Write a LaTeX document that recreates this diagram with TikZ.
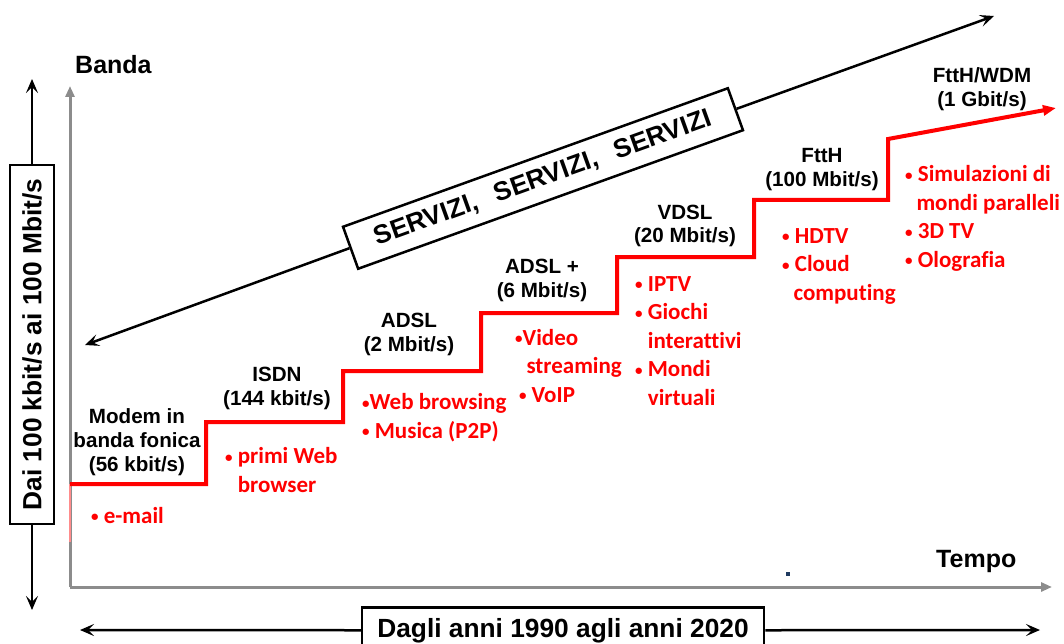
\documentclass[tikz,border=0pt]{standalone}
\usepackage{fontspec}
\setmainfont{Liberation Sans}
\newfontfamily\redfont[Ligatures=NoCommon]{Carlito}
\usetikzlibrary{arrows.meta}
\definecolor{axisgray}{HTML}{8C8C8C}
\definecolor{dotblue}{HTML}{1F3A60}
\newcommand\bu{\raisebox{1.5pt}{\fontsize{15}{15}\selectfont •}}
\begin{document}
\begin{tikzpicture}[x=1pt,y=-1pt,
  lbl/.style={font=\bfseries\fontsize{20.6}{24}\selectfont, align=center, anchor=base, inner sep=0pt},
  svc/.style={font=\redfont\bfseries\fontsize{23}{28.4}\selectfont, text=red, align=left, anchor=base west, inner sep=0pt},
  axlbl/.style={font=\bfseries\fontsize{25}{30}\selectfont, anchor=base west, inner sep=0pt},
  bigbox/.style={draw, line width=2.5pt, font=\bfseries\fontsize{26.3}{30}\selectfont, inner sep=0pt, fill=white},
  axisline/.style={draw=axisgray, line width=3pt, -{Triangle[length=11pt,width=9pt]}},
  blk/.style={line width=2.5pt, -{Stealth[length=14pt,width=12pt,inset=6pt]}},
  stair/.style={draw=red, line width=4pt, -{Triangle[length=13pt,width=10pt]}}
]
\useasboundingbox (0,0) rectangle (1064,644);

% axes
\coordinate (origin) at (70,587);
\coordinate (ytip) at (70,86);
\coordinate (xtip) at (1052,587);
\draw[axisline] (origin) -- (ytip);
\draw[axisline] (origin) -- (xtip);
\draw[red!45, line width=2.5pt] (70,484) -- (70,542);

\node[axlbl] (banda) at (75,74) {Banda};
\node[axlbl] (tempo) at (936,567) {Tempo};

% staircase
\draw[stair, line join=miter] (70,484) -- (206,484) -- (206,422) -- (343,422) -- (343,371)
  -- (481,371) -- (481,313) -- (617,313) -- (617,257) -- (754,257) -- (754,200)
  -- (888,200) -- (888,139) -- (1056,108);

% technology labels (anchored at the baseline of the last line)
\node[lbl] (modem) at (137,471) {Modem in\\banda fonica\\(56 kbit/s)};
\node[lbl] (isdn) at (277,405) {ISDN\\(144 kbit/s)};
\node[lbl] (adsl) at (409,351) {ADSL\\(2 Mbit/s)};
\node[lbl] (adslp) at (542,297) {ADSL +\\(6 Mbit/s)};
\node[lbl] (vdsl) at (685,243) {VDSL\\(20 Mbit/s)};
\node[lbl] (ftth) at (822,187) {FttH\\(100 Mbit/s)};
\node[lbl] (ftthw) at (982,107) {FttH/WDM\\(1 Gbit/s)};

% services (anchored at the baseline of the last line)
\node[svc] (email) at (91,523) {\bu\ e-mail};
\node[svc] (primi) at (225,492) {\bu\ primi Web\\\hphantom{\bu\ }browser};
\node[svc] (web) at (362,438) {\bu Web browsing\\\bu\ Musica (P2P)};
\node[svc] (video) at (515,402) {\bu Video\\\hphantom{\bu\,}streaming\\\,\bu\ VoIP};
\node[svc] (iptv) at (635,405) {\bu\ IPTV\\\bu\ Giochi\\\hphantom{\bu\ }interattivi\\\bu\ Mondi\\\hphantom{\bu\ }virtuali};
\node[svc] (hdtv) at (782,300) {\bu\ HDTV\\\bu\ Cloud\\\hphantom{\bu\,}computing};
\node[svc] (sim) at (905,267) {\bu\ Simulazioni di\\\hphantom{\bu\,}mondi paralleli\\\bu\ 3D TV\\\bu\ Olografia};

% SERVIZI box and arrow
\node[bigbox, minimum width=409pt, minimum height=44.6pt, rotate=19.8] (serv) at (543,178.5)
  {SERVIZI,\hspace{0.7em}SERVIZI,\hspace{0.7em}SERVIZI};
\coordinate (sleft) at (85,345);
\coordinate (sright) at (994,16);
\draw[blk] (serv.west) -- (sleft);
\draw[blk] (serv.east) -- (sright);

% vertical box
\node[bigbox, minimum width=359pt, minimum height=44pt, rotate=90] (dai) at (32,344.5)
  {Dai 100 kbit/s ai 100 Mbit/s};
\coordinate (dtop) at (32,79);
\coordinate (dbot) at (32,610);
\draw[blk] (dai.east) -- (dtop);
\draw[blk] (dai.west) -- (dbot);

% horizontal box
\node[bigbox, minimum width=402pt, minimum height=46pt, anchor=base] (dagli) at (563,637)
  {Dagli anni 1990 agli anni 2020};
\coordinate (hleft) at (80,630);
\coordinate (hright) at (1040,630);
\draw[blk] (dagli.west) -- (hleft);
\draw[blk] (dagli.east) -- (hright);

% small blue mark
\fill[dotblue] (786,572) rectangle (790,576);
\end{tikzpicture}
\end{document}
